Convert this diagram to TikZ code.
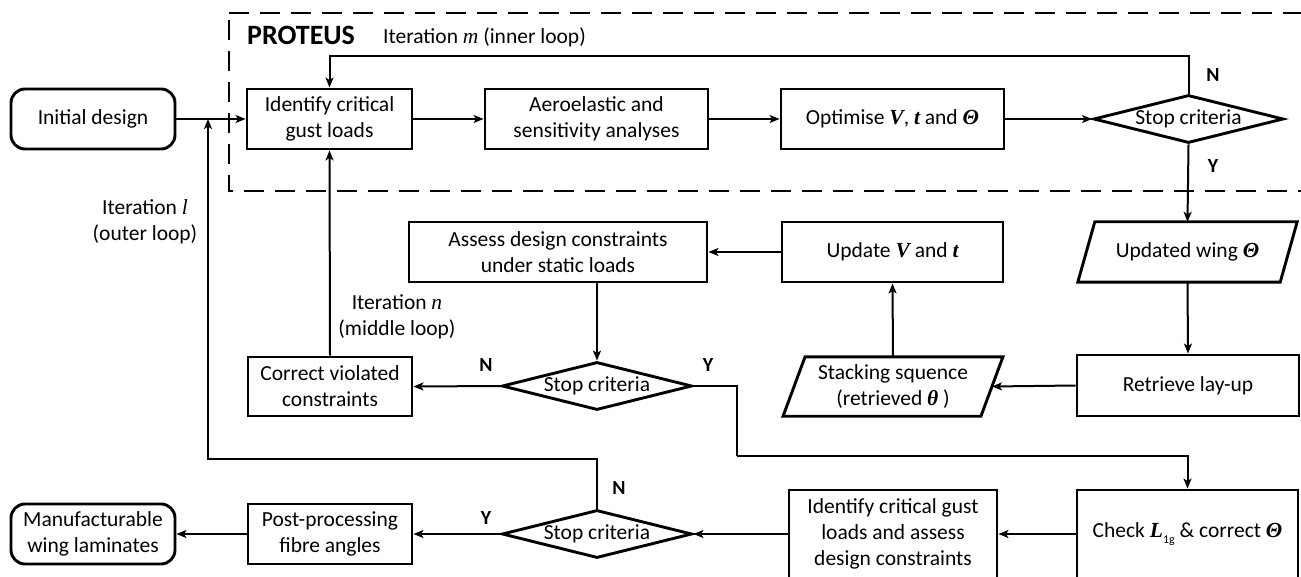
\documentclass[tikz,border=0pt]{standalone}
\usepackage{fontspec}
\setmainfont{Carlito}
\newfontfamily\serf{Liberation Serif}
\usetikzlibrary{arrows.meta,shapes.geometric}
\newcommand{\bvar}[1]{{\serf\bfseries\itshape #1}}
\newcommand{\ivar}[1]{{\serf\itshape #1}}
\begin{document}
\begin{tikzpicture}[x=1pt,y=-1pt,font=\fontsize{21.5}{26}\selectfont,
  box/.style={draw, line width=2.9pt, inner sep=0pt, align=center},
  rbox/.style={box, rounded corners=14pt},
  pbox/.style={inner sep=0pt, align=center},
  pline/.style={line width=2.9pt},
  dia/.style={diamond, draw, line width=2.9pt, inner sep=0pt, minimum width=190pt, minimum height=48pt},
  arr/.style={line width=2pt, -{Stealth[length=10pt,width=8pt,inset=2.5pt]}},
  ln/.style={line width=2pt},
  yn/.style={font=\fontsize{20}{24}\selectfont\bfseries},
  txt/.style={align=center, inner sep=0pt}]
\useasboundingbox (0,0) rectangle (1301,577);
\fill[white] (0,0) rectangle (1301,577);
\clip (0,0) rectangle (1301,577);

% PROTEUS frame
\draw[line width=2pt, dash pattern=on 20pt off 11pt] (229,13) -- (1320,13) -- (1320,191) -- (229,191) -- cycle;
\node[anchor=base west, inner sep=0pt, font=\fontsize{28}{32}\selectfont\bfseries] (prot) at (247,45) {PROTEUS};
\node[anchor=base west, inner sep=0pt] (itm) at (383,44) {Iteration \ivar{m} (inner loop)};

% top row
\node[rbox, minimum width=164pt, minimum height=60pt] (init) at (93,119) {Initial design};
\node[box, minimum width=165pt, minimum height=60pt] (id1) at (329.5,119) {Identify critical\\gust loads};
\node[box, minimum width=223pt, minimum height=60pt] (aero) at (596.5,119) {Aeroelastic and\\sensitivity analyses};
\node[box, minimum width=223pt, minimum height=60pt] (opt) at (892.5,119) {Optimise \bvar{V}, \bvar{t} and \bvar{Θ}};
\node[dia, label=center:{Stop criteria}] (d1) at (1188.5,119) {};
\node[yn] (n1) at (1213,75) {N};
\node[yn] (y1) at (1213,166) {Y};

% middle row
\node[box, minimum width=298pt, minimum height=60pt] (ass) at (558,252) {Assess design constraints\\under static loads};
\node[box, minimum width=221pt, minimum height=60pt] (upd) at (892.5,252) {Update \bvar{V} and \bvar{t}};
\node[pbox, minimum width=202pt, minimum height=60pt] (upw) at (1187.5,252) {Updated wing \bvar{Θ}};
\draw[pline] ([xshift=8.5pt]upw.north west) -- ([xshift=8.5pt]upw.north east) -- ([xshift=-8.5pt]upw.south east) -- ([xshift=-8.5pt]upw.south west) -- cycle;

\node[box, minimum width=164pt, minimum height=59pt] (cor) at (330,386.5) {Correct violated\\constraints};
\node[dia, label=center:{Stop criteria}] (d2) at (597,386) {};
\node[yn] (n2) at (486,365) {N};
\node[yn] (y2) at (708,365) {Y};
\node[pbox, minimum width=197.5pt, minimum height=59pt] (stk) at (893,386.5) {Stacking squence\\(retrieved \bvar{θ} )};
\draw[pline] ([xshift=11pt]stk.north west) -- ([xshift=11pt]stk.north east) -- ([xshift=-11pt]stk.south east) -- ([xshift=-11pt]stk.south west) -- cycle;
\node[box, minimum width=222pt, minimum height=61pt] (retr) at (1188,385.5) {Retrieve lay-up};

\node[txt] (itn) at (397,317) {Iteration \ivar{n}\\(middle loop)};
\node[txt] (itl) at (145,222) {Iteration \ivar{l}\\(outer loop)};

% bottom row
\node[rbox, minimum width=164pt, minimum height=60pt] (manu) at (93,534) {Manufacturable\\wing laminates};
\node[box, minimum width=164pt, minimum height=60pt] (post) at (330,534) {Post-processing\\fibre angles};
\node[dia, label=center:{Stop criteria}] (d3) at (597,534) {};
\node[yn] (n3) at (619,488) {N};
\node[yn] (y3) at (486,518) {Y};
\node[box, minimum width=208pt, minimum height=88pt] (id2) at (893,534) {Identify critical gust\\loads and assess\\design constraints};
\node[box, minimum width=221pt, minimum height=88pt] (chk) at (1187.5,534) {Check \bvar{L}\raisebox{-6pt}{\fontsize{12}{12}\selectfont 1g} \& correct \bvar{Θ}};

% helper coordinates
\coordinate (top) at (0,56);
\coordinate (yb) at (737,456);
\coordinate (ol) at (208,459);
\coordinate (oj) at (208,119);

% connectors
\draw[arr] (init) -- (id1);
\draw[arr] (id1) -- (aero);
\draw[arr] (aero) -- (opt);
\draw[arr] (opt) -- (d1.west);
\draw[arr] (d1.north) |- (id1.north |- top) -- (id1.north);
\draw[arr] (d1.south) -- (upw.north);
\draw[arr] (upw.south) -- (retr.north);
\draw[arr] (retr.west) -- (stk.east);
\draw[arr] (stk.north) -- (upd.south);
\draw[arr] (upd.west) -- (ass.east);
\draw[arr] (d2.north |- ass.south) -- (d2.north);
\draw[arr] (d2.west) -- (cor.east);
\draw[arr] (cor.north) -- (id1.south);
\draw[ln] (d2.east) -| (yb);
\draw[arr] (yb) -| (chk.north);
\draw[arr] (chk.west) -- (id2.east);
\draw[arr] (id2.west) -- (d3.east);
\draw[arr] (d3.west) -- (post.east);
\draw[arr] (post.west) -- (manu.east);
\draw[arr] (d3.north) |- (ol) -- (oj);
\end{tikzpicture}
\end{document}
